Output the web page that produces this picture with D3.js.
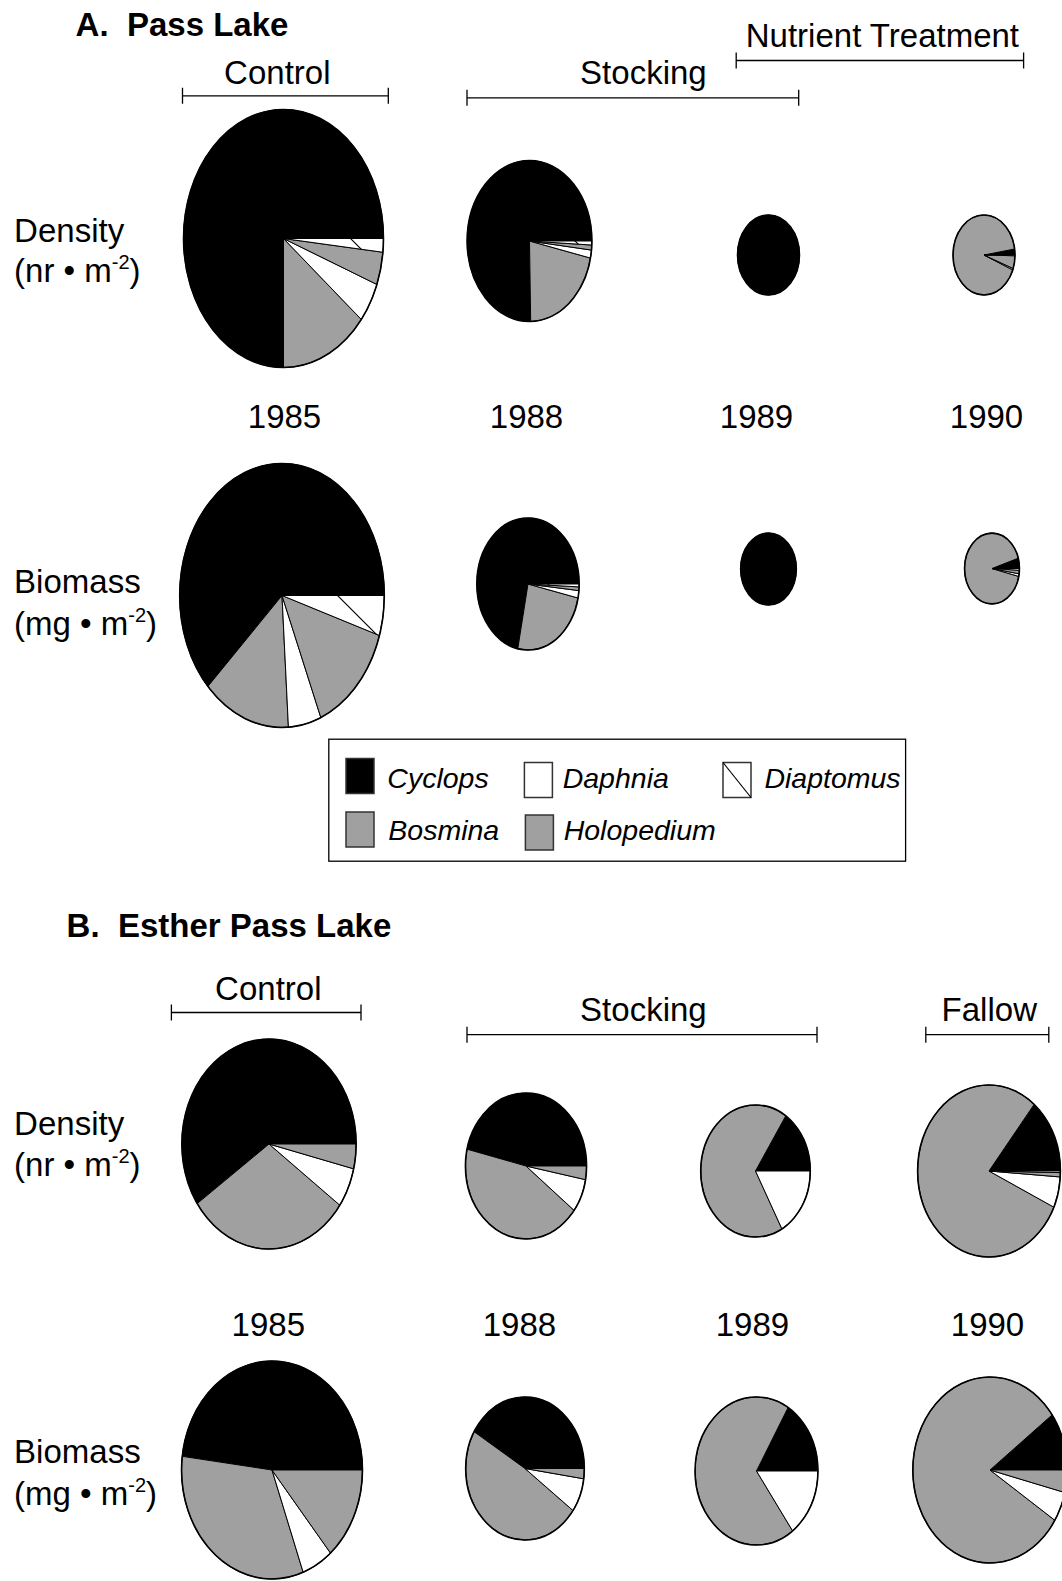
<!DOCTYPE html>
<html><head><meta charset="utf-8">
<script src="https://cdn.jsdelivr.net/npm/d3@7"></script>
<style>
html,body{margin:0;padding:0;background:#fff;}
svg{display:block;font-family:Arial,"Liberation Sans",Helvetica,sans-serif;}
</style></head><body>
<svg id="chart" width="1062" height="1581"></svg>
<script>
// ---------------- DATA ----------------
const species = ["Cyclops","Bosmina","Daphnia","Holopedium","Diaptomus"];
const years = ["1985","1988","1989","1990"];

// percent composition, one row per year, columns follow `species`
const passDensity = [
  [75.0, 14.2, 5.0, 4.1, 1.7],
  [75.3, 21.3, 1.6, 1.0, 0.8],
  [100, 0, 0, 0, 0],
  [2.4, 91.5, 0.6, 5.2, 0.3]
];
const passBiomass = [
  [62.1, 13.9, 5.2, 13.9, 4.9],
  [71.8, 24.8, 1.8, 0.9, 0.7],
  [100, 0, 0, 0, 0],
  [4.7, 91.7, 1.2, 1.6, 0.8]
];
const estherDensity = [
  [59.6, 30.5, 6.1, 3.8, 0],
  [46.3, 43.3, 7.4, 3.0, 0],
  [15.7, 67.3, 17.0, 0, 0],
  [14.1, 79.0, 5.8, 0.8, 0.3]
];
const estherBiomass = [
  [48.0, 32.6, 5.6, 13.8, 0],
  [41.4, 48.6, 7.7, 2.3, 0],
  [16.4, 68.6, 15.0, 0, 0],
  [10.1, 80.8, 5.2, 3.9, 0]
];
// relative totals (1985 = 100), drive pie area
const passDensityTotal = [100, 38.9, 9.6, 9.6];
const passBiomassTotal = [100, 25.0, 7.4, 7.2];
const estherDensityTotal = [100, 48.3, 39.5, 67.1];
const estherBiomassTotal = [100, 43.0, 46.1, 72.8];

const passPhases = [
  {label:"Control", x0:182.5, x1:388.3, y:95.8, tx:277.3, ty:83.7},
  {label:"Stocking", x0:467, x1:798.7, y:97.8, tx:643.4, ty:83.7},
  {label:"Nutrient Treatment", x0:736.2, x1:1023.6, y:60.5, tx:882.4, ty:47.4}
];
const estherPhases = [
  {label:"Control", x0:171.4, x1:361, y:1012.5, tx:268.3, ty:1000.4},
  {label:"Stocking", x0:467, x1:817, y:1034.7, tx:643.4, ty:1020.6},
  {label:"Fallow", x0:925.8, x1:1048.8, y:1034.7, tx:989.3, ty:1020.6}
];

// ---------------- STYLE / LAYOUT ----------------
const GRAY = "#a0a0a0";
const fills = {Cyclops:"#000", Bosmina:GRAY, Daphnia:"#fff", Holopedium:GRAY, Diaptomus:"url(#diap)"};
const FONT = 33;

const panels = [
  {data:passDensity, totals:passDensityTotal, rMax:129, aspect:0.775,
   centers:[[283.5,238.5],[529.5,241],[768.5,255],[984,255]]},
  {data:passBiomass, totals:passBiomassTotal, rMax:132, aspect:0.775,
   centers:[[282,595.5],[528,584],[768.5,569],[992,568.5]]},
  {data:estherDensity, totals:estherDensityTotal, rMax:105, aspect:0.83,
   centers:[[269,1144],[526,1166],[755.5,1171],[989,1171]]},
  {data:estherBiomass, totals:estherBiomassTotal, rMax:109, aspect:0.83,
   centers:[[272,1470],[525,1468.5],[756.5,1471],[990,1470]]}
];

const svg = d3.select("#chart");
const defs = svg.append("defs");
const pat = defs.append("pattern").attr("id","diap")
  .attr("patternUnits","userSpaceOnUse").attr("width",74).attr("height",74).attr("x",38).attr("y",0);
pat.append("rect").attr("width",74).attr("height",74).attr("fill","#fff");
pat.append("path").attr("d","M0,0L74,74M-2,72L2,76M72,-2L76,2").attr("stroke","#000").attr("stroke-width",1.2);

// pie layout: start at 3 o'clock, go counter-clockwise
const pie = d3.pie().sort(null).value(d => d.v)
  .startAngle(Math.PI/2).endAngle(Math.PI/2 - 2*Math.PI);

function sectorPath(cx, cy, rx, ry, a0, a1){
  const p0 = [cx + rx*Math.sin(a0), cy - ry*Math.cos(a0)];
  const p1 = [cx + rx*Math.sin(a1), cy - ry*Math.cos(a1)];
  const large = Math.abs(a1 - a0) > Math.PI ? 1 : 0;
  const sweep = a1 > a0 ? 1 : 0;
  return `M${cx},${cy}L${p0[0]},${p0[1]}A${rx},${ry} 0 ${large} ${sweep} ${p1[0]},${p1[1]}Z`;
}

panels.forEach(p => {
  const rScale = d3.scaleSqrt().domain([0,100]).range([0,p.rMax]);
  p.data.forEach((row, i) => {
    const [cx, cy] = p.centers[i];
    const ry = rScale(p.totals[i]);
    const rx = ry * p.aspect;
    const g = svg.append("g");
    const arcs = pie(row.map((v,k) => ({sp:species[k], v}))).filter(a => a.data.v > 0);
    arcs.forEach(a => {
      if (Math.abs(a.endAngle - a.startAngle) >= 2*Math.PI - 1e-6){
        g.append("ellipse").attr("cx",cx).attr("cy",cy).attr("rx",rx).attr("ry",ry)
          .attr("fill",fills[a.data.sp]).attr("stroke","#000").attr("stroke-width",1);
      } else {
        g.append("path").attr("d",sectorPath(cx,cy,rx,ry,a.startAngle,a.endAngle))
          .attr("fill",fills[a.data.sp]).attr("stroke","#000").attr("stroke-width",1)
          .attr("stroke-linejoin","round");
      }
    });
    g.append("ellipse").attr("cx",cx).attr("cy",cy).attr("rx",rx).attr("ry",ry)
      .attr("fill","none").attr("stroke","#000").attr("stroke-width",1.6);
  });
});

// ---------------- TEXT ----------------
function txt(x, y, s, opts={}){
  return svg.append("text").attr("x",x).attr("y",y).text(s)
    .attr("font-size",opts.size||FONT)
    .attr("font-weight",opts.bold?"bold":null)
    .attr("font-style",opts.italic?"italic":null)
    .attr("text-anchor",opts.anchor||"start").attr("fill","#000");
}
txt(75.6, 36.3, "A.\u00a0 Pass Lake", {bold:true});
txt(66.6, 937, "B.\u00a0 Esther Pass Lake", {bold:true});

function phases(list){
  list.forEach(ph => {
    txt(ph.tx, ph.ty, ph.label, {anchor:"middle"});
    svg.append("path")
      .attr("d",`M${ph.x0},${ph.y}H${ph.x1}M${ph.x0},${ph.y-8}V${ph.y+8}M${ph.x1},${ph.y-8}V${ph.y+8}`)
      .attr("stroke","#000").attr("stroke-width",1.3).attr("fill","none");
  });
}
phases(passPhases);
phases(estherPhases);

function unitLabel(x, y1, y2, name, unit){
  txt(x, y1, name);
  const t = txt(x, y2, "(" + unit + " \u2022 m");
  t.append("tspan").attr("font-size",20).attr("dy",-13).text("-2");
  t.append("tspan").attr("dy",13).text(")");
}
unitLabel(14.1, 241.5, 282.4, "Density", "nr");
unitLabel(14.1, 593, 635, "Biomass", "mg");
unitLabel(14.1, 1134.5, 1176, "Density", "nr");
unitLabel(14.1, 1463, 1504.5, "Biomass", "mg");

const passYearX = [284.5, 526.5, 756.5, 986.5];
const estherYearX = [268.3, 519.4, 752.4, 987.5];
years.forEach((y,i) => {
  txt(passYearX[i], 427.6, y, {anchor:"middle"});
  txt(estherYearX[i], 1336, y, {anchor:"middle"});
});

// ---------------- LEGEND ----------------
svg.append("rect").attr("x",328.8).attr("y",739.2).attr("width",576.8).attr("height",122)
  .attr("fill","#fff").attr("stroke","#000").attr("stroke-width",1.3);
const legendPos = {
  Cyclops:{sx:346, sy:758.5, tx:387.3, ty:787.6},
  Daphnia:{sx:524.4, sy:762.5, tx:562.7, ty:787.6},
  Diaptomus:{sx:723, sy:762.5, tx:764.4, ty:787.6},
  Bosmina:{sx:346, sy:812, tx:388.3, ty:840},
  Holopedium:{sx:525.4, sy:815, tx:563.7, ty:840}
};
species.forEach(sp => {
  const L = legendPos[sp];
  svg.append("rect").attr("x",L.sx).attr("y",L.sy).attr("width",28).attr("height",35)
    .attr("fill", sp === "Diaptomus" ? "#fff" : fills[sp]).attr("stroke","#333").attr("stroke-width",1.5);
  if (sp === "Diaptomus"){
    svg.append("line").attr("x1",L.sx).attr("y1",L.sy).attr("x2",L.sx+28).attr("y2",L.sy+35)
      .attr("stroke","#000").attr("stroke-width",1.2);
  }
  txt(L.tx, L.ty, sp, {italic:true, size:28.5});
});
</script>
</body></html>
